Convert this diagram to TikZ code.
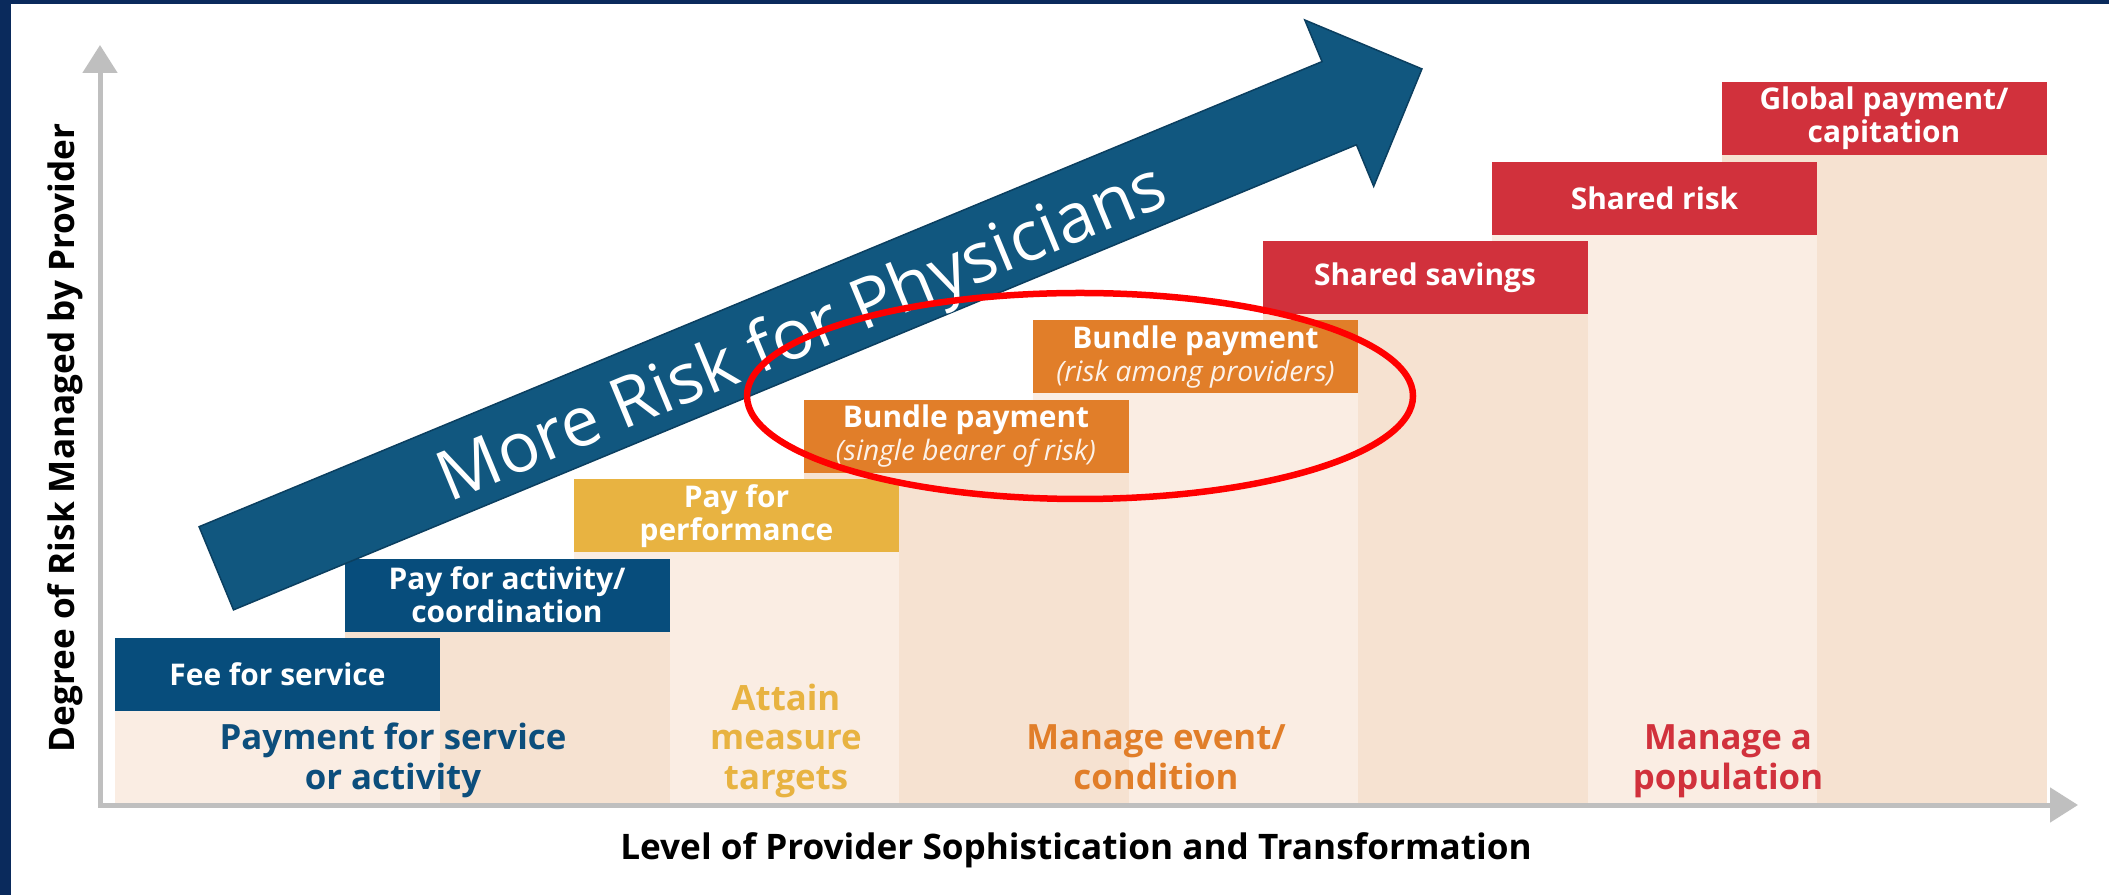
\documentclass[tikz,border=0pt]{standalone}
\usepackage{fontspec}
\setmainfont{Open Sans}
\usepackage{tikz}
\usetikzlibrary{arrows.meta,positioning}
\definecolor{frame}{HTML}{0A2A5C}
\definecolor{boxnavy}{HTML}{074D7C}
\definecolor{tiernavy}{HTML}{0C4E7C}
\definecolor{arrowblue}{HTML}{11577F}
\definecolor{arrowedge}{HTML}{0B3F60}
\definecolor{gold}{HTML}{E8B341}
\definecolor{amber}{HTML}{E17E29}
\definecolor{crimson}{HTML}{D1313C}
\definecolor{peachA}{HTML}{FAEDE3}
\definecolor{peachB}{HTML}{F6E2D1}
\definecolor{axisgray}{HTML}{BFBFBF}
\newcommand{\subnote}[1]{{\mdseries\itshape\fontsize{8}{9.4}\selectfont\color{white!90!amber}#1}}
\tikzset{
  stepbox/.style={minimum width=32.5mm,minimum height=7.3mm,inner sep=0pt,align=center,text=white,font=\fontsize{8.5}{9.4}\selectfont\bfseries},
  navybox/.style={stepbox,fill=boxnavy},
  goldbox/.style={stepbox,fill=gold},
  amberbox/.style={stepbox,fill=amber},
  redbox/.style={stepbox,fill=crimson},
  tier/.style={align=center,anchor=base,inner sep=0pt,font=\fontsize{9.9}{11.1}\selectfont\bfseries},
  axislab/.style={inner sep=0pt,text=black,font=\fontsize{10}{12}\selectfont\bfseries},
  axisline/.style={draw=axisgray,line width=0.5mm,-{Triangle[length=2.8mm,width=3.4mm]}},
  bigarrow/.style={fill=arrowblue,draw=arrowedge,line width=0.15mm},
  arrowtext/.style={text=white,anchor=base,rotate=22.5,inner sep=0pt,font=\fontsize{19.7}{24}\selectfont},
  ring/.style={draw=red,line width=0.65mm},
}
\begin{document}
\begin{tikzpicture}[x=0.1mm,y=-0.1mm]
\useasboundingbox (0,0) rectangle (2109,895);
\fill[white] (0,0) rectangle (2109,895);
\fill[frame] (0,0) rectangle (11,895);
\fill[frame] (0,0) rectangle (2109,4);
% columns under the steps, back to front
\foreach \i/\c in {7/peachB,6/peachA,5/peachB,4/peachA,3/peachB,2/peachA,1/peachB,0/peachA}
  \fill[\c] (115+229.5*\i,711-79.4*\i) rectangle (440+229.5*\i,803);
% axes
\coordinate (o) at (100,805);
\coordinate (ytip) at (100,45);
\coordinate (xtip) at (2078,805);
\draw[axisline,line cap=rect] (o) -- (ytip);
\draw[axisline,line cap=rect] (o) -- (xtip);
% payment models
\node[navybox] (fee) at (277.5,674.5) {Fee for service};
\node[navybox] (act) at (507,595.1) {Pay for activity/\\coordination};
\node[goldbox] (perf) at (736.5,515.7) {Pay for\\performance};
\node[amberbox] (bsingle) at (966,436.3) {Bundle payment\\\subnote{(single bearer of risk)}};
\node[amberbox] (bshared) at (1195.5,356.9) {Bundle payment\\\subnote{(risk among providers)}};
\node[redbox] (sav) at (1425,277.5) {Shared savings};
\node[redbox] (srisk) at (1654.5,198.1) {Shared risk};
\node[redbox] (glob) at (1884,118.7) {Global payment/\\capitation};
% tiers (base = last line)
\node[tier,text=tiernavy] (tserv) at (393,789) {Payment for service\\or activity};
\node[tier,text=gold] (tmeas) at (786,789) {Attain\\measure\\targets};
\node[tier,text=amber] (tevent) at (1156,789) {Manage event/\\condition};
\node[tier,text=crimson] (tpop) at (1728,789) {Manage a\\population};
% axis titles
\node[axislab,rotate=90] (ylab) at (65,438) {Degree of Risk Managed by Provider};
\node[axislab,anchor=base] (xlab) at (1076,859.3) {Level of Provider Sophistication and Transformation};
% big arrow
\begin{scope}[shift={(216.3,568.3)},rotate=22.5]
\filldraw[bigarrow] (0,-45) -- (1215.5,-45) -- (1215.5,-90) -- (1305,0) -- (1215.5,90) -- (1215.5,45) -- (0,45) -- cycle;
\node[arrowtext] (more) at (631,28.7) {More Risk for Physicians};
\end{scope}
\draw[ring] (1080,396) ellipse [x radius=333,y radius=103];
\end{tikzpicture}
\end{document}
